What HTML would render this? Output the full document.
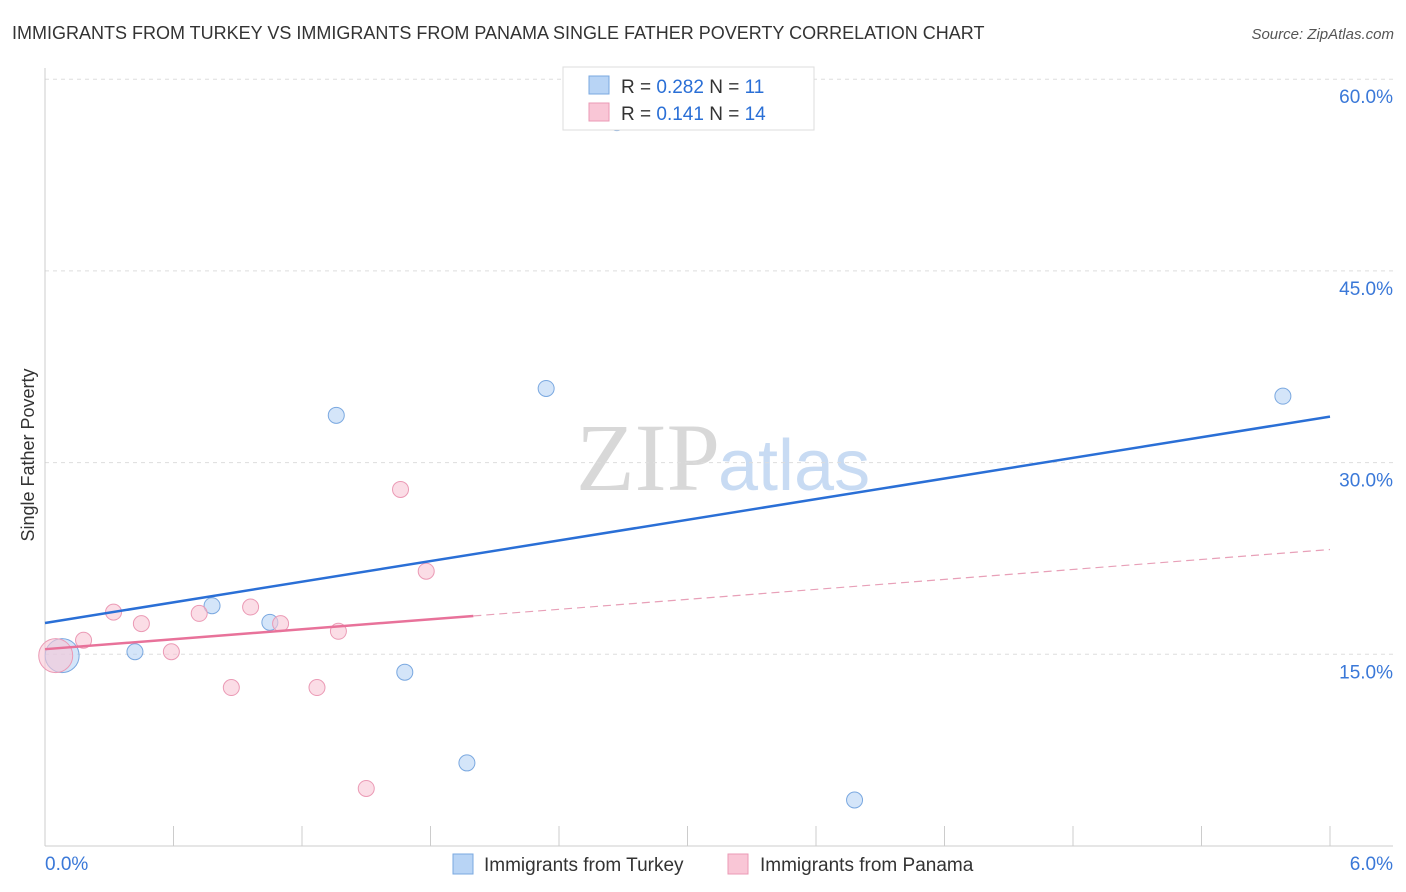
<!DOCTYPE html>
<html><head><meta charset="utf-8">
<style>
body{margin:0;background:#fff;font-family:"Liberation Sans",sans-serif;}
#wrap{position:relative;width:1406px;height:892px;overflow:hidden;}
</style></head>
<body><div id="wrap">
<svg id="svg" width="1406" height="892" xmlns="http://www.w3.org/2000/svg">
<text x="12" y="39" font-size="18" fill="#333">IMMIGRANTS FROM TURKEY VS IMMIGRANTS FROM PANAMA SINGLE FATHER POVERTY CORRELATION CHART</text>
<text x="1394" y="39" font-size="15" fill="#555" font-style="italic" text-anchor="end">Source: ZipAtlas.com</text>
<text x="720" y="490" font-size="96" fill="#d8d8d8" font-family="Liberation Serif" text-anchor="end">ZIP</text>
<text x="718" y="490" font-size="72" fill="#c8dbf3">atlas</text>
<text x="34" y="455" font-size="18" fill="#333" text-anchor="middle" transform="rotate(-90 34 455)">Single Father Poverty</text>
<g id="grid"></g><g id="marks"></g>
<g>
<rect x="563" y="67" width="251" height="63" fill="#fff" stroke="#ddd"/>
<rect x="589" y="76" width="20" height="18" fill="#b8d4f5" stroke="#7aa8e0"/>
<rect x="589" y="103" width="20" height="18" fill="#f9c6d6" stroke="#eb9ab5"/>
<text x="621" y="93" font-size="19" fill="#333">R = <tspan fill="#2a6fd6">0.282</tspan>   N =  <tspan fill="#2a6fd6">11</tspan></text>
<text x="621" y="120" font-size="19" fill="#333">R =  <tspan fill="#2a6fd6">0.141</tspan>   N = <tspan fill="#2a6fd6">14</tspan></text>
</g>
<g>
<rect x="453" y="854" width="20" height="20" fill="#b8d4f5" stroke="#7aa8e0"/>
<text x="484" y="871" font-size="19" fill="#333">Immigrants from Turkey</text>
<rect x="728" y="854" width="20" height="20" fill="#f9c6d6" stroke="#eb9ab5"/>
<text x="760" y="871" font-size="19" fill="#333">Immigrants from Panama</text>
</g>
</svg>
<script>
const yTicks=[15,30,45,60];
const xTickLabels=["0.0%","6.0%"];
const turkeyX=[0.08,0.42,0.78,1.05,1.36,1.68,1.97,2.34,2.67,3.78,5.78];
const turkeyY=[14.9,15.2,18.8,17.5,33.7,13.6,6.5,35.8,56.6,3.6,35.2];
const panamaX=[0.05,0.18,0.32,0.45,0.59,0.72,0.87,0.96,1.10,1.27,1.37,1.50,1.66,1.78];
const panamaY=[14.9,16.1,18.3,17.4,15.2,18.2,12.4,18.7,17.4,12.4,16.8,4.5,27.9,21.5];
const turkeyFit=[17.45,33.6];
const panamaFit=[15.4,23.2];
const X=v=>45+v/6*1285, Y=v=>846-v/15*191.7;
const NS="http://www.w3.org/2000/svg";
function mk(t,a,p){const e=document.createElementNS(NS,t);for(const k in a)e.setAttribute(k,a[k]);p.appendChild(e);return e;}
const g=document.getElementById('grid'), m=document.getElementById('marks');
yTicks.forEach(t=>{
 const l=mk('line',{x1:45,x2:1393,y1:Y(t),y2:Y(t),stroke:'#ddd','stroke-dasharray':'4,4'},g);
 
 
 const tx=mk('text',{x:1393,y:Y(t)+24,'font-size':19,fill:'#3a78d8','text-anchor':'end'},g);
 tx.textContent=t.toFixed(1)+'%';
 
 
});
const ax=mk('line',{x1:45,x2:1393,y1:846,y2:846,stroke:'#ccc'},g);


const ay=mk('line',{x1:45,x2:45,y1:68,y2:846,stroke:'#ccc'},g);


for(let i=0;i<=10;i++){
 const t=mk('line',{x1:X(i*0.6),x2:X(i*0.6),y1:826,y2:846,stroke:'#ccc'},g);
 
 
}
xTickLabels.forEach((s,i)=>{
 const t=mk('text',{x:i?1393:45,y:870,'font-size':19,fill:'#3a78d8','text-anchor':i?'end':'start'},g);
 t.textContent=s;
 
 
});
function pts(xs,ys,fill,stroke,name){xs.forEach((x,i)=>{
 const c=mk('circle',{cx:X(x),cy:Y(ys[i]),r:i==0?17:8,fill:fill,stroke:stroke,'fill-opacity':0.6},m);
 
 
});}
pts(turkeyX,turkeyY,'#b8d4f5','#7aa8e0','turkey-point');
pts(panamaX,panamaY,'#f9c6d6','#eb9ab5','panama-point');
const bl=mk('line',{x1:X(0),y1:Y(turkeyFit[0]),x2:X(6),y2:Y(turkeyFit[1]),stroke:'#2a6fd6','stroke-width':2.5},m);


const xe=2.0, ye=panamaFit[0]+(panamaFit[1]-panamaFit[0])*xe/6;
const pl=mk('line',{x1:X(0),y1:Y(panamaFit[0]),x2:X(xe),y2:Y(ye),stroke:'#e8729a','stroke-width':2.5},m);


const pd=mk('line',{x1:X(xe),y1:Y(ye),x2:X(6),y2:Y(panamaFit[1]),stroke:'#e8a0b8','stroke-width':1.2,'stroke-dasharray':'8,5'},m);


</script>
</div></body></html>
